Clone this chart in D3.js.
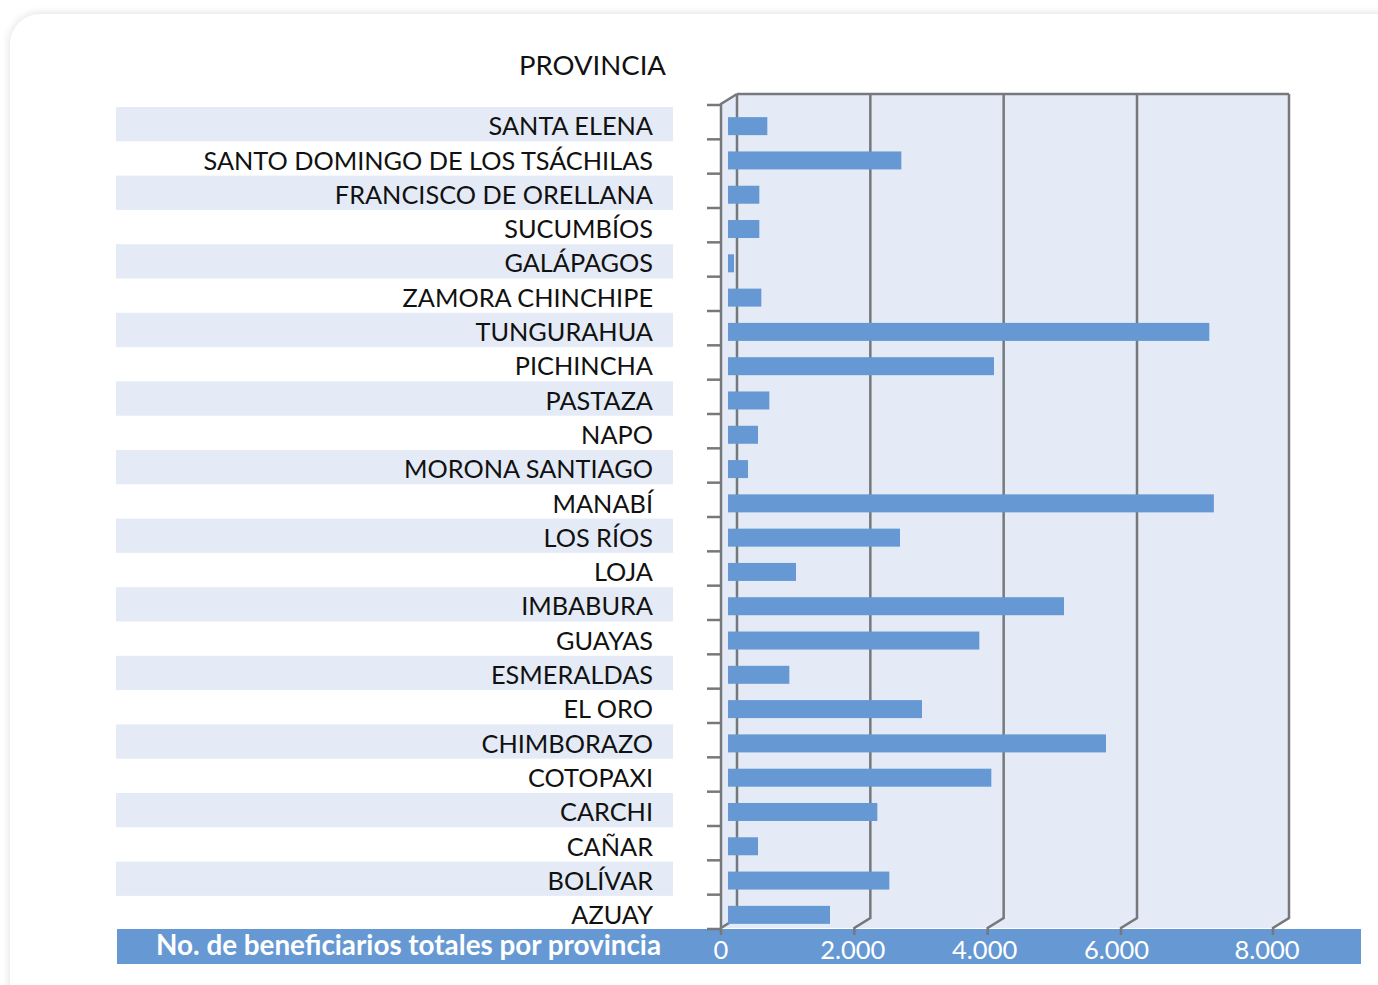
<!DOCTYPE html>
<html>
<head>
<meta charset="utf-8">
<script src="https://cdn.jsdelivr.net/npm/d3@7"></script>
<style>
  body { margin: 0; background: #fff; overflow: hidden; }
  #card { position: absolute; left: 10px; top: 14px; width: 1420px; height: 1030px; background: #fff; border-radius: 30px; box-shadow: 0 0 10px rgba(0,0,0,0.14); }
  #chart { position: absolute; left: 0; top: 0; }
</style>
</head>
<body>
<div id="card"></div>
<div id="chart"></div>
<script>
// data, top row first
const provincias = [
  "SANTA ELENA", "SANTO DOMINGO DE LOS TSÁCHILAS", "FRANCISCO DE ORELLANA", "SUCUMBÍOS",
  "GALÁPAGOS", "ZAMORA CHINCHIPE", "TUNGURAHUA", "PICHINCHA", "PASTAZA", "NAPO",
  "MORONA SANTIAGO", "MANABÍ", "LOS RÍOS", "LOJA", "IMBABURA", "GUAYAS", "ESMERALDAS",
  "EL ORO", "CHIMBORAZO", "COTOPAXI", "CARCHI", "CAÑAR", "BOLÍVAR", "AZUAY"
];
const beneficiarios = [
  590, 2600, 470, 470, 90, 500, 7070, 3990, 620, 450,
  300, 7130, 2580, 1020, 5040, 3770, 920, 2910, 5670, 3950,
  2240, 450, 2420, 1530
];
const tickValues = [0, 2000, 4000, 6000, 8000];
const tickLabels = ["0", "2.000", "4.000", "6.000", "8.000"];
const titulo = "PROVINCIA";
const pie = "No. de beneficiarios totales por provincia";

const W = 1378, H = 985;
const font = "Lato, 'Noto Sans', sans-serif";
const barColor = "#6699d3";
const wallColor = "#e4ebf6";
const gridColor = "#76787c";

// 3D depth offset: front = back + (dx, dy)
const dx = -16, dy = 10;
const wallTop = 94, wallBottom = 918;

const svg = d3.select("#chart").append("svg").attr("width", W).attr("height", H);

// back wall x scale (Excel's 3D axis stretches the last step)
const x = d3.scaleLinear().domain([0, 6000, 8000]).range([737, 1137, 1289]);

const rows = d3.scaleBand().domain(provincias).range([107, 930.2]);
const bars = d3.scaleBand().domain(provincias).range([109, 932]).paddingInner(0.475).paddingOuter(0.2375);
const rowTicks = d3.scaleBand().domain(provincias).range([105, 929]);

// striped rows behind the labels
svg.append("g").selectAll("rect")
  .data(provincias.filter((d, i) => i % 2 === 0))
  .join("rect")
  .attr("x", 116).attr("width", 557)
  .attr("y", d => rows(d)).attr("height", rows.bandwidth())
  .attr("fill", wallColor);

// walls and floor
const x0 = x(0), x1 = x(8000);
svg.append("path")
  .attr("d", `M${x0 + dx},${wallTop + dy}L${x0},${wallTop}L${x1},${wallTop}L${x1},${wallBottom}L${x1 + dx},${wallBottom + dy}L${x0 + dx},${wallBottom + dy}Z`)
  .attr("fill", wallColor);

// bottom band
svg.append("rect").attr("x", 117).attr("y", 929).attr("width", 1244).attr("height", 35).attr("fill", barColor);

// gridlines: back wall vertical, floor diagonal, front tick
const grid = svg.append("g").attr("fill", "none").attr("stroke", gridColor).attr("stroke-width", 2.5);
grid.selectAll("path.grid")
  .data(tickValues)
  .join("path")
  .attr("class", "grid")
  .attr("d", d => `M${x(d)},${wallTop}L${x(d)},${wallBottom}L${x(d) + dx},${wallBottom + dy}L${x(d) + dx},${wallBottom + dy + 7}`);
grid.append("path").attr("d", `M${x0},${wallTop}L${x1},${wallTop}`);
grid.append("path").attr("d", `M${x0 + dx},${wallBottom + dy}L${x0 + dx},${wallTop + dy}L${x0},${wallTop}`);

// category ticks on the front left edge
grid.selectAll("path.rt")
  .data(provincias.concat(["_end"]))
  .join("path")
  .attr("class", "rt")
  .attr("d", (d, i) => {
    const y = 105 + i * rowTicks.step();
    return `M${x0 + dx - 14},${y}L${x0 + dx},${y}`;
  });

// bars sit halfway into the depth, in front of the back gridlines
svg.append("g").selectAll("rect")
  .data(beneficiarios)
  .join("rect")
  .attr("x", x(0) + dx / 2 - 1)
  .attr("y", (d, i) => bars(provincias[i]))
  .attr("width", d => x(d) - x(0))
  .attr("height", bars.bandwidth())
  .attr("fill", barColor);

// category labels
svg.append("g").selectAll("text")
  .data(provincias)
  .join("text")
  .attr("x", 653)
  .attr("y", d => rows(d) + rows.bandwidth() / 2 + 2)
  .attr("dy", "0.36em")
  .attr("text-anchor", "end")
  .attr("font-family", font)
  .attr("font-size", 25.3)
  .attr("fill", "#111")
  .text(d => d);

svg.append("text")
  .attr("x", 666).attr("y", 75)
  .attr("text-anchor", "end")
  .attr("font-family", font).attr("font-size", 27.5)
  .attr("fill", "#111")
  .text(titulo);

svg.append("text")
  .attr("x", 661).attr("y", 955)
  .attr("text-anchor", "end")
  .attr("font-family", font).attr("font-size", 27.8).attr("font-weight", "bold")
  .attr("fill", "#fff")
  .text(pie);

svg.append("g").selectAll("text")
  .data(tickValues)
  .join("text")
  .attr("x", (d, i) => x(d) + dx - i * 1.5)
  .attr("y", 959)
  .attr("text-anchor", "middle")
  .attr("font-family", font).attr("font-size", 25.5)
  .attr("fill", "#fff")
  .text((d, i) => tickLabels[i]);
</script>
</body>
</html>
